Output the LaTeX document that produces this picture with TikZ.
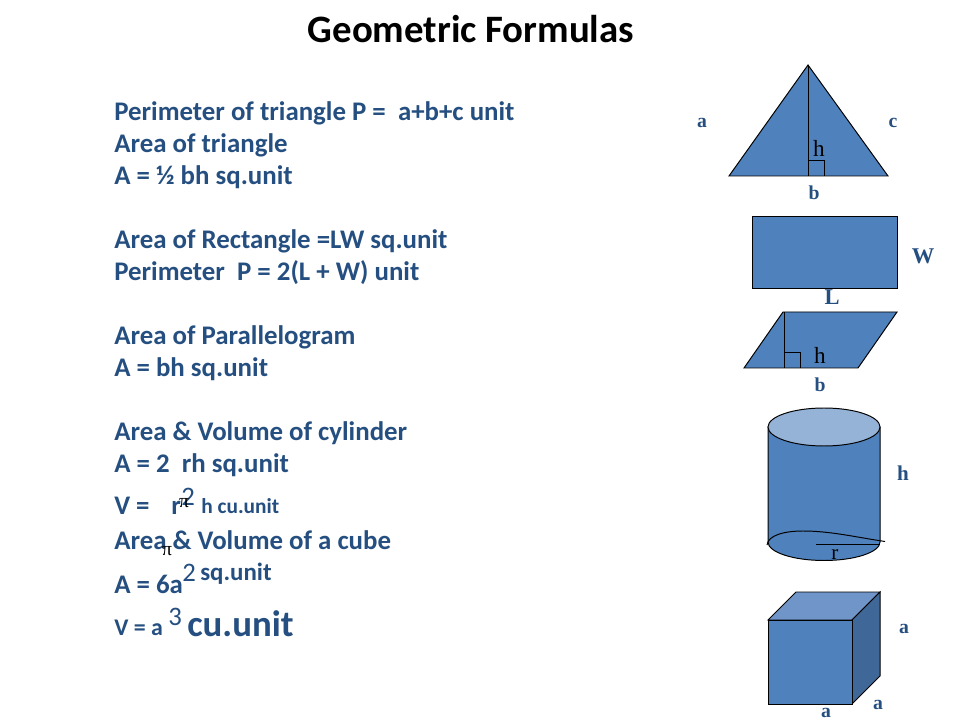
\documentclass[tikz,border=0pt]{standalone}
\usepackage{xcolor}
\usepackage{fontspec}
\setmainfont{Carlito}
\newfontfamily\labelfont{Liberation Serif}
\usetikzlibrary{positioning}
\definecolor{textblue}{HTML}{254F80}
\definecolor{shapeblue}{HTML}{4F81BD}
\definecolor{lightblue}{HTML}{95B3D7}
\definecolor{topblue}{HTML}{7096C9}
\definecolor{sideblue}{HTML}{3F6797}
\tikzset{
    formula/.style={anchor=base west, inner sep=0pt, text=textblue, font=\fontsize{19.1}{22}\selectfont\bfseries},
    power/.style={anchor=base west, inner sep=0pt, text=textblue, font=\fontsize{19}{22}\selectfont},
    small/.style={anchor=base west, inner sep=0pt, text=textblue, font=\fontsize{15.2}{18}\selectfont\bfseries},
    pisign/.style={anchor=base, inner sep=0pt, text=black, font=\fontsize{14}{16}\selectfont\labelfont},
    dimlabel/.style={anchor=base, inner sep=0pt, text=textblue, font=\fontsize{14}{16}\selectfont\labelfont\bfseries},
    heightlabel/.style={anchor=base, inner sep=0pt, text=black, font=\fontsize{16.5}{18}\selectfont\labelfont},
    solid shape/.style={draw=black, fill=shapeblue, line width=0.7pt, line join=miter},
    plain line/.style={draw=black, line width=0.7pt},
}
\begin{document}
\begin{tikzpicture}[x=0.025cm, y=-0.025cm]
    \useasboundingbox (0,0) rectangle (960,720);

    \node [anchor=base, inner sep=0pt, font=\fontsize{27.6}{32}\selectfont\bfseries] (title) at (471,43) {Geometric Formulas};

    % Formulas
    \node [formula] (l1) at (114,121) {Perimeter of triangle P =\ \ a+b+c unit};
    \node [formula] (l2) at (114,153) {Area of triangle};
    \node [formula] (l3) at (114,185) {A = ½ bh sq.unit};
    \node [formula] (l4) at (114,249) {Area of Rectangle =LW sq.unit};
    \node [formula] (l5) at (114,281) {Perimeter\ \ P = 2(L + W) unit};
    \node [formula] (l6) at (114,345) {Area of Parallelogram};
    \node [formula] (l7) at (114,377) {A = bh sq.unit};
    \node [formula] (l8) at (114,441) {Area \& Volume of cylinder};
    \node [formula] (l9) at (114,473) {A = 2\ \ rh sq.unit};
    \node [formula] (l10) at (114,515) {V =};
    \node [formula] (l10r) at (171,515) {r};
    \node [power] (l10a) at (181,505) {2};
    \node [small] (l10b) at (201,514) {h cu.unit};
    \node [formula] (l11) at (114,550) {Area \& Volume of a cube};
    \node [formula] (l12) at (114,593) {A = 6a};
    \node [power] (l12a) at (182,581) {2};
    \node [formula, font=\fontsize{17.7}{20}\selectfont\bfseries] (l12b) at (200,580) {sq.unit};
    \node [formula, font=\fontsize{17}{20}\selectfont\bfseries] (l13) at (114,635) {V = a};
    \node [power] (l13a) at (168,625) {3};
    \node [formula, font=\fontsize{26.2}{30}\selectfont\bfseries] (l13b) at (187,636) {cu.unit};
    \node [pisign] (pione) at (184,508) {π};
    \node [pisign] (pitwo) at (167,555) {π};

    % Triangle
    \draw [solid shape] (808,65) -- (888,176) -- (729,176) -- cycle;
    \draw [plain line] (808,65) -- (808,176);
    \draw [plain line] (808,160) -- (824,160) -- (824,176);
    \node [heightlabel] (triH) at (819,157) {h};
    \node [dimlabel] (triA) at (702,128) {a};
    \node [dimlabel] (triC) at (893,128) {c};
    \node [dimlabel] (triB) at (814,200) {b};

    % Rectangle
    \draw [solid shape] (752,216) rectangle (897,288);
    \node [dimlabel, font=\fontsize{16}{18}\selectfont\labelfont\bfseries] (recW) at (923,264) {W};
    \node [dimlabel, font=\fontsize{16}{18}\selectfont\labelfont\bfseries] (recL) at (832,305) {L};

    % Parallelogram
    \draw [solid shape] (783,312) -- (897,312) -- (858,368) -- (744,368) -- cycle;
    \draw [plain line] (784.5,312) -- (784.5,368);
    \draw [plain line] (784.5,352) -- (800,352) -- (800,368);
    \node [heightlabel] (parH) at (820,364) {h};
    \node [dimlabel] (parB) at (820,392) {b};

    % Cylinder
    \draw [solid shape] (768,542) arc [start angle=180, end angle=360, x radius=56, y radius=-18.5] -- (880,427) -- (768,427) -- cycle;
    \draw [plain line, fill=lightblue] (824,427) ellipse [x radius=56, y radius=19];
    \draw [plain line] (767,545) .. controls (768,535) and (785,531) .. (803,531) .. controls (830,531) and (855,537) .. (885,541.5);
    \draw [plain line] (816,544.5) -- (880,544.5);
    \node [heightlabel, font=\fontsize{15}{18}\selectfont\labelfont] (cylR) at (835,560) {r};
    \node [dimlabel, font=\fontsize{15}{18}\selectfont\labelfont\bfseries] (cylH) at (903,481) {h};

    % Cube
    \draw [solid shape, fill=topblue] (768,620) -- (796,592) -- (880,592) -- (852,620) -- cycle;
    \draw [solid shape, fill=sideblue] (852,620) -- (880,592) -- (880,676) -- (852,704) -- cycle;
    \draw [solid shape] (768,620) rectangle (852,704);
    \node [dimlabel] (cubeA) at (904,633) {a};
    \node [dimlabel] (cubeB) at (878,709) {a};
    \node [dimlabel] (cubeC) at (826,717) {a};
\end{tikzpicture}
\end{document}
